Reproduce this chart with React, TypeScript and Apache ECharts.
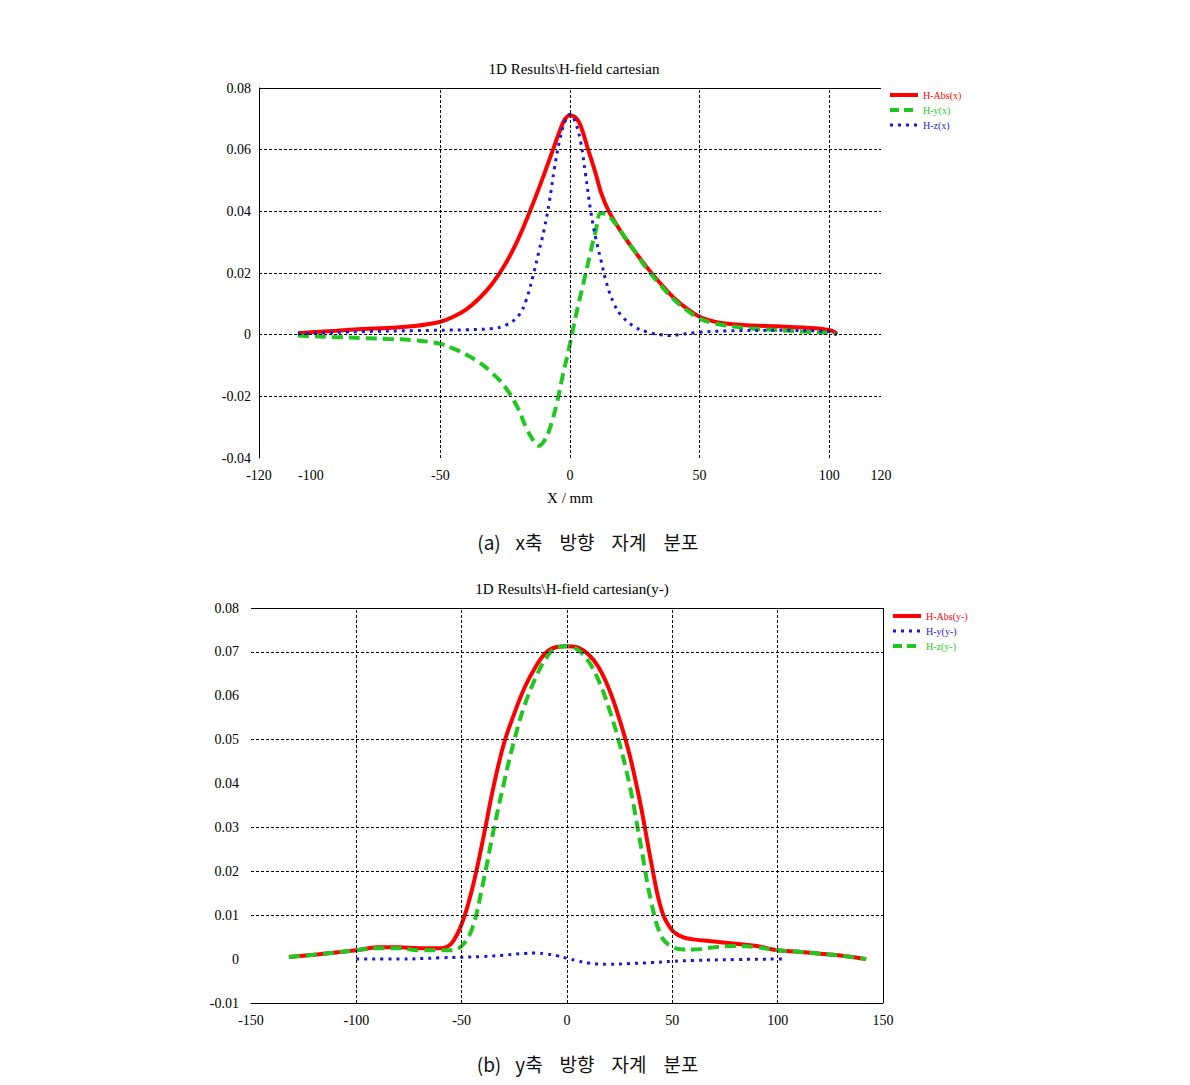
import React, { useEffect, useRef } from "react";
import * as echarts from "echarts";

// ---------- Chart (a): X direction ----------
const aTitle = "1D Results\\H-field cartesian";
const aXTicks = [-120, -100, -50, 0, 50, 100, 120];
const aVGrid = [-50, 0, 50, 100];
const aHGrid = [-0.02, 0, 0.02, 0.04, 0.06];

const aAbsX = [-105, -100, -90, -80, -70, -60, -50, -45, -40, -35, -30, -25, -20, -15, -10, -7, -4, -2, 0, 2, 4, 7, 10, 12, 15, 20, 25, 30, 35, 40, 45, 50, 55, 60, 70, 80, 90, 100, 103];
const aAbsY = [0.0005, 0.0008, 0.0013, 0.0018, 0.0022, 0.0028, 0.0042, 0.0058, 0.0082, 0.0118, 0.0165, 0.0228, 0.031, 0.041, 0.052, 0.059, 0.066, 0.0698, 0.0712, 0.0705, 0.068, 0.06, 0.052, 0.046, 0.04, 0.033, 0.027, 0.0215, 0.0165, 0.012, 0.0085, 0.0058, 0.0044, 0.0036, 0.003, 0.0027, 0.0023, 0.0015, 0.0003];

const aHyX = [-105, -100, -90, -80, -70, -60, -50, -45, -40, -35, -30, -25, -20, -17, -14, -12, -10, -8, -5, -3, 0, 3, 5, 8, 10, 12, 15, 20, 25, 30, 35, 40, 45, 50, 55, 60, 70, 80, 90, 100, 103];
const aHyY = [-0.0003, -0.0005, -0.0008, -0.0011, -0.0014, -0.0018, -0.003, -0.0045, -0.0065, -0.009, -0.0125, -0.017, -0.024, -0.03, -0.0345, -0.036, -0.0345, -0.031, -0.022, -0.014, -0.003, 0.009, 0.016, 0.027, 0.034, 0.0395, 0.0385, 0.033, 0.027, 0.021, 0.016, 0.0115, 0.008, 0.0052, 0.0038, 0.003, 0.002, 0.0015, 0.001, 0.0005, 0.0002];

const aHzX = [-105, -100, -80, -60, -40, -30, -25, -20, -17, -14, -12, -10, -8, -6, -4, -2, 0, 2, 4, 6, 8, 10, 12, 14, 17, 20, 25, 30, 35, 38, 42, 50, 60, 80, 100, 103];
const aHzY = [0.0003, 0.0005, 0.001, 0.0013, 0.0016, 0.002, 0.003, 0.006, 0.011, 0.02, 0.027, 0.034, 0.043, 0.054, 0.063, 0.069, 0.0715, 0.069, 0.063, 0.052, 0.04, 0.031, 0.024, 0.017, 0.01, 0.006, 0.0025, 0.0008, 0.0, -0.0003, 0.0, 0.0008, 0.0012, 0.0014, 0.001, 0.0];

// ---------- Chart (b): Y direction ----------
const bTitle = "1D Results\\H-field cartesian(y-)";
const bVGrid = [-100, -50, 0, 50, 100];
const bHGrid = [0.01, 0.02, 0.03, 0.05, 0.07];

const bAbsX = [-132, -120, -100, -90, -80, -70, -60, -55, -50, -45, -40, -35, -30, -25, -20, -15, -10, -5, 0, 5, 10, 15, 20, 25, 30, 35, 40, 45, 50, 55, 60, 70, 80, 90, 100, 110, 120, 130, 142];
const bAbsY = [0.0005, 0.001, 0.002, 0.0027, 0.0027, 0.0025, 0.0025, 0.0035, 0.008, 0.016, 0.027, 0.039, 0.049, 0.056, 0.062, 0.0665, 0.0698, 0.0711, 0.0713, 0.071, 0.0695, 0.0665, 0.0615, 0.0545, 0.046, 0.035, 0.022, 0.011, 0.0065, 0.005, 0.0045, 0.004, 0.0035, 0.003, 0.002, 0.0017, 0.0012, 0.0008, 0.0];

const bHzX = [-132, -120, -100, -90, -80, -70, -60, -55, -50, -45, -40, -35, -30, -25, -20, -15, -10, -5, 0, 5, 10, 15, 20, 25, 30, 35, 40, 45, 50, 55, 60, 70, 80, 90, 100, 110, 120, 130, 142];
const bHzY = [0.0005, 0.001, 0.002, 0.0025, 0.0025, 0.002, 0.002, 0.002, 0.003, 0.007, 0.017, 0.029, 0.04, 0.05, 0.058, 0.064, 0.0685, 0.071, 0.0713, 0.0705, 0.068, 0.0635, 0.057, 0.049, 0.039, 0.026, 0.013, 0.005, 0.0028, 0.0022, 0.0022, 0.0027, 0.003, 0.0027, 0.002, 0.0017, 0.0012, 0.0008, 0.0];

const bHyX = [-100, -80, -60, -40, -30, -20, -15, -10, -5, 0, 5, 10, 20, 30, 40, 50, 60, 80, 100, 102];
const bHyY = [0, 0, 0.0003, 0.0006, 0.0009, 0.0013, 0.0014, 0.0012, 0.0008, 0.0002, -0.0004, -0.0009, -0.0012, -0.001, -0.0008, -0.0005, -0.0003, -0.0001, 0, 0];

const captionA = ["(a)", "x축", "방향", "자계", "분포"];
const captionB = ["(b)", "y축", "방향", "자계", "분포"];

const RED = "#ff0000";
const GREEN = "#1ec81e";
const BLUE = "#1a1ad6";
const SERIF = "'Liberation Serif', 'Times New Roman', serif";

const pairs = (xs: number[], ys: number[]) => xs.map((x, i) => [x, ys[i]]);

const fmtY = (v: number) => (Math.abs(v) < 1e-9 ? "0" : v.toFixed(2));

const gridLines = (xAxisIndex: number, v: number[], h: number[], solidH: number[], solidV: number[]) => ({
  type: "line",
  name: "_grid" + xAxisIndex,
  xAxisIndex,
  yAxisIndex: xAxisIndex,
  data: [],
  z: 1,
  silent: true,
  markLine: {
    silent: true,
    symbol: ["none", "none"],
    label: { show: false },
    animation: false,
    lineStyle: { color: "#000", width: 1, type: [3, 2] },
    data: [
      ...v.map((x) => ({ xAxis: x })),
      ...h.map((y) => ({ yAxis: y })),
      ...solidH.map((y) => ({ yAxis: y, lineStyle: { type: "solid", color: "#000", width: 1 } })),
      ...solidV.map((x) => ({ xAxis: x, lineStyle: { type: "solid", color: "#000", width: 1 } })),
    ],
  },
});

const curve = (name: string, idx: number, xs: number[], ys: number[], color: string, width: number, type: any) => ({
  type: "line",
  name,
  xAxisIndex: idx,
  yAxisIndex: idx,
  data: pairs(xs, ys),
  showSymbol: false,
  symbol: "none",
  smooth: 0.4,
  z: 3,
  lineStyle: { color, width, type },
  itemStyle: { color },
});

export default function App() {
  const ref = useRef<HTMLDivElement>(null);
  useEffect(() => {
    if (!ref.current) return;
    const chart = echarts.init(ref.current, null, { renderer: "svg" });
    const axisLabel = { color: "#000", fontFamily: SERIF, fontSize: 14 };
    const captionText = (words: string[], y: number) =>
      words.map((w, i) => ({
        type: "text",
        x: [489, 529, 577, 629, 681][i],
        y,
        style: {
          text: w,
          fill: "#111",
          font: "19px 'Noto Sans CJK KR', sans-serif",
          textAlign: "center",
          textVerticalAlign: "middle",
        },
      }));
    const legendBase = {
      orient: "vertical",
      itemWidth: 28,
      itemHeight: 8,
      itemGap: 5,
      padding: 0,
      itemStyle: { opacity: 0 },
      textStyle: { fontFamily: SERIF, fontSize: 10 },
    };
    const item = (name: string, color: string, width: number, type: any) => ({
      name,
      textStyle: { color },
      lineStyle: { width, type, color },
    });
    chart.setOption({
      animation: false,
      backgroundColor: "#fff",
      title: [
        { text: aTitle, left: 569, top: 56, textAlign: "center", textStyle: { fontFamily: SERIF, fontSize: 15, fontWeight: "normal", color: "#000" } },
        { text: bTitle, left: 567, top: 576, textAlign: "center", textStyle: { fontFamily: SERIF, fontSize: 15, fontWeight: "normal", color: "#000" } },
      ],
      legend: [
        {
          ...legendBase,
          left: 888,
          top: 90,
          data: [item("H-Abs(x)", RED, 4, "solid"), item("H-y(x)", GREEN, 4, [9, 5]), item("H-z(x)", BLUE, 3, [3, 5])],
        },
        {
          ...legendBase,
          left: 891,
          top: 611,
          data: [item("H-Abs(y-)", RED, 4, "solid"), item("H-y(y-)", BLUE, 3, [3, 5]), item("H-z(y-)", GREEN, 4, [9, 5])],
        },
      ],
      grid: [
        { left: 259, top: 88, width: 622, height: 370 },
        { left: 251, top: 608, width: 632, height: 395 },
      ],
      xAxis: [
        {
          type: "value",
          gridIndex: 0,
          min: -120,
          max: 120,
          axisLine: { show: false },
          axisTick: { show: false },
          splitLine: { show: false },
          axisLabel: { ...axisLabel, margin: 10, customValues: aXTicks, formatter: (v: number) => String(v) },
          name: "X / mm",
          nameLocation: "middle",
          nameGap: 32,
          nameTextStyle: { fontFamily: SERIF, fontSize: 15, color: "#000" },
        },
        {
          type: "value",
          gridIndex: 1,
          min: -150,
          max: 150,
          interval: 50,
          axisLine: { show: true, onZero: false, lineStyle: { color: "#000", width: 1 } },
          axisTick: { show: false },
          splitLine: { show: false },
          axisLabel: { ...axisLabel, margin: 10 },
        },
      ],
      yAxis: [
        {
          type: "value",
          gridIndex: 0,
          min: -0.04,
          max: 0.08,
          interval: 0.02,
          axisLine: { show: true, onZero: false, lineStyle: { color: "#000", width: 1 } },
          axisTick: { show: false },
          splitLine: { show: false },
          axisLabel: { ...axisLabel, margin: 8, formatter: fmtY },
        },
        {
          type: "value",
          gridIndex: 1,
          min: -0.01,
          max: 0.08,
          interval: 0.01,
          axisLine: { show: false, onZero: false },
          axisTick: { show: false },
          splitLine: { show: false },
          axisLabel: { ...axisLabel, margin: 12, formatter: fmtY },
        },
      ],
      series: [
        gridLines(0, aVGrid, aHGrid, [0.08], []),
        gridLines(1, bVGrid, bHGrid, [0.08], [150]),
        curve("H-Abs(x)", 0, aAbsX, aAbsY, RED, 4, "solid"),
        curve("H-y(x)", 0, aHyX, aHyY, GREEN, 4, [11, 6]),
        curve("H-z(x)", 0, aHzX, aHzY, BLUE, 3, [3, 5]),
        curve("H-Abs(y-)", 1, bAbsX, bAbsY, RED, 4, "solid"),
        curve("H-y(y-)", 1, bHyX, bHyY, BLUE, 3, [3, 5]),
        curve("H-z(y-)", 1, bHzX, bHzY, GREEN, 4, [11, 6]),
      ],
      graphic: [...captionText(captionA, 541), ...captionText(captionB, 1063)],
    });
    return () => chart.dispose();
  }, []);
  return <div ref={ref} style={{ position: "absolute", left: 0, top: 0, width: 1190, height: 1085 }} />;
}
